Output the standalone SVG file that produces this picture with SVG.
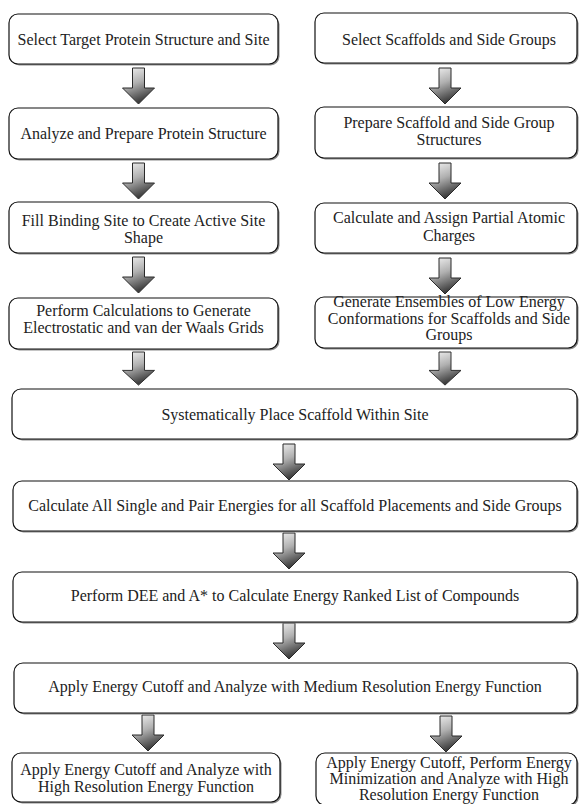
<svg xmlns="http://www.w3.org/2000/svg" width="579" height="804" viewBox="0 0 579 804">
<style>
.box{fill:#fff;stroke:#111;stroke-width:1.2}
.sh{fill:#8a8a8a}
.t{font-family:"Liberation Serif","Times New Roman",serif;font-size:16px;fill:#222;text-anchor:middle}
.arr{fill:url(#g);stroke:#2a2a2a;stroke-width:1}
</style>
<defs>
<linearGradient id="g" x1="0" y1="0" x2="0.35" y2="1">
<stop offset="0" stop-color="#f6f6f6"/>
<stop offset="0.5" stop-color="#b0b0b0"/>
<stop offset="1" stop-color="#3c3c3c"/>
</linearGradient>
<path id="a" d="M-6,0 H6 V20 H16 L0,36 L-16,20 H-6 Z"/>
</defs>
<rect width="579" height="804" fill="#fff"/>
<g id="connectors">
<use href="#a" class="arr" transform="translate(138.5,68)"/>
<use href="#a" class="arr" transform="translate(138.5,163)"/>
<use href="#a" class="arr" transform="translate(138.5,257)"/>
<use href="#a" class="arr" transform="translate(138.5,352) scale(1,0.92)"/>
<use href="#a" class="arr" transform="translate(445,68)"/>
<use href="#a" class="arr" transform="translate(445,163)"/>
<use href="#a" class="arr" transform="translate(445,258)"/>
<use href="#a" class="arr" transform="translate(445,352) scale(1,0.92)"/>
<use href="#a" class="arr" transform="translate(289,444)"/>
<use href="#a" class="arr" transform="translate(289,533)"/>
<use href="#a" class="arr" transform="translate(289,623)"/>
<use href="#a" class="arr" transform="translate(148,715)"/>
<use href="#a" class="arr" transform="translate(446,716)"/>
</g>
<g id="n1"><rect class="sh" x="10.5" y="15.5" width="269" height="50" rx="9"/><rect class="box" x="9" y="14" width="269" height="50" rx="9"/><text class="t" x="143.5" y="44.5">Select Target Protein Structure and Site</text></g>
<g id="n2"><rect class="sh" x="10.5" y="109.5" width="269" height="51" rx="9"/><rect class="box" x="9" y="108" width="269" height="51" rx="9"/><text class="t" x="143.5" y="138.5">Analyze and Prepare Protein Structure</text></g>
<g id="n3"><rect class="sh" x="10.5" y="203.5" width="269" height="51" rx="9"/><rect class="box" x="9" y="202" width="269" height="51" rx="9"/><text class="t" x="143.5" y="226">Fill Binding Site to Create Active Site</text><text class="t" x="143.5" y="243">Shape</text></g>
<g id="n4"><rect class="sh" x="10.5" y="299.5" width="269" height="51" rx="9"/><rect class="box" x="9" y="298" width="269" height="51" rx="9"/><text class="t" x="143.5" y="316">Perform Calculations to Generate</text><text class="t" x="143.5" y="333">Electrostatic and van der Waals Grids</text></g>
<g id="r1"><rect class="sh" x="316.5" y="14.5" width="262" height="50" rx="9"/><rect class="box" x="315" y="13" width="262" height="50" rx="9"/><text class="t" x="449" y="44.5">Select Scaffolds and Side Groups</text></g>
<g id="r2"><rect class="sh" x="316.5" y="108.5" width="262" height="51" rx="9"/><rect class="box" x="315" y="107" width="262" height="51" rx="9"/><text class="t" x="449" y="128">Prepare Scaffold and Side Group</text><text class="t" x="449" y="145">Structures</text></g>
<g id="r3"><rect class="sh" x="316.5" y="204.5" width="262" height="50" rx="9"/><rect class="box" x="315" y="203" width="262" height="50" rx="9"/><text class="t" x="449" y="223">Calculate and Assign Partial Atomic</text><text class="t" x="449" y="240.5">Charges</text></g>
<g id="r4"><rect class="sh" x="316.5" y="298.5" width="262" height="51" rx="9"/><rect class="box" x="315" y="297" width="262" height="51" rx="9"/><text class="t" x="449" y="307">Generate Ensembles of Low Energy</text><text class="t" x="449" y="323.5">Conformations for Scaffolds and Side</text><text class="t" x="449" y="340">Groups</text></g>
<g id="b1"><rect class="sh" x="13.5" y="390.5" width="565" height="50" rx="9"/><rect class="box" x="12" y="389" width="565" height="50" rx="9"/><text class="t" x="295" y="420">Systematically Place Scaffold Within Site</text></g>
<g id="b2"><rect class="sh" x="14.5" y="482.5" width="564" height="50" rx="9"/><rect class="box" x="13" y="481" width="564" height="50" rx="9"/><text class="t" x="295" y="511">Calculate All Single and Pair Energies for all Scaffold Placements and Side Groups</text></g>
<g id="b3"><rect class="sh" x="14.5" y="573.5" width="564" height="50" rx="9"/><rect class="box" x="13" y="572" width="564" height="50" rx="9"/><text class="t" x="295" y="601">Perform DEE and A* to Calculate Energy Ranked List of Compounds</text></g>
<g id="b4"><rect class="sh" x="15.5" y="664.5" width="563" height="50" rx="9"/><rect class="box" x="14" y="663" width="563" height="50" rx="9"/><text class="t" x="295" y="692">Apply Energy Cutoff and Analyze with Medium Resolution Energy Function</text></g>
<g id="l5"><rect class="sh" x="13.5" y="754.5" width="268" height="49" rx="9"/><rect class="box" x="12" y="753" width="268" height="49" rx="9"/><text class="t" x="146" y="775">Apply Energy Cutoff and Analyze with</text><text class="t" x="146" y="792">High Resolution Energy Function</text></g>
<g id="r5"><rect class="sh" x="317.5" y="754.5" width="261" height="52" rx="9"/><rect class="box" x="316" y="753" width="261" height="52" rx="9"/><text class="t" x="449" y="767.5">Apply Energy Cutoff, Perform Energy</text><text class="t" x="449" y="783.5">Minimization and Analyze with High</text><text class="t" x="449" y="799.5">Resolution Energy Function</text></g>
</svg>
